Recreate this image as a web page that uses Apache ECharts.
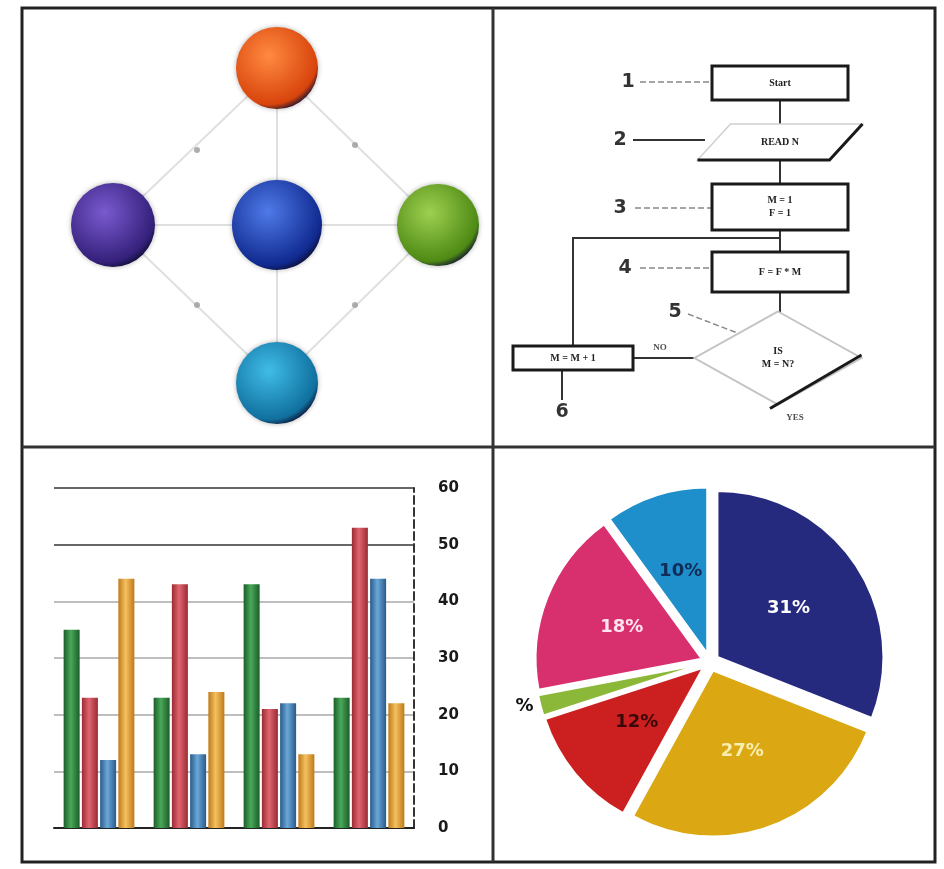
<!DOCTYPE html>
<html>
<head>
<meta charset="utf-8">
<script src="https://cdn.jsdelivr.net/npm/echarts@6/dist/echarts.min.js"></script>
<style>
  html, body { margin: 0; padding: 0; background: #fff; }
  #chart { width: 944px; height: 869px; }
</style>
</head>
<body>
<div id="chart"></div>
<script>
// --- network diagram (panel-local coords) ---
const netNodes = [
  { name: 'center', x: 255, y: 217, size: 90, light: '#4f7ae8', dark: '#102a90' },
  { name: 'top', x: 255, y: 60, size: 82, light: '#ff8a40', dark: '#d8440c' },
  { name: 'left', x: 91, y: 217, size: 84, light: '#7a5ad0', dark: '#34207a' },
  { name: 'right', x: 416, y: 217, size: 82, light: '#9ed050', dark: '#4e8a14' },
  { name: 'bottom', x: 255, y: 375, size: 82, light: '#40bce8', dark: '#10709e' }
]
const netDots = [[175, 142], [333, 137], [175, 297], [333, 297]]
const netLinks = [
  ['center', 'top'], ['center', 'left'], ['center', 'right'], ['center', 'bottom'],
  ['top', 'left'], ['top', 'right'], ['bottom', 'left'], ['bottom', 'right']
]

// --- flowchart (panel-local coords) ---
const flowBoxes = [
  { text: 'Start', x: 287, y: 75, w: 136, h: 34, shape: 'rect' },
  { text: 'READ N', x: 287, y: 134, w: 165, h: 36, shape: 'para' },
  { text: 'M = 1\nF = 1', x: 287, y: 199, w: 136, h: 46, shape: 'rect' },
  { text: 'F = F * M', x: 287, y: 264, w: 136, h: 40, shape: 'rect' },
  { text: 'IS\nM = N?', x: 285, y: 350, w: 167, h: 93, shape: 'diamond' },
  { text: 'M = M + 1', x: 80, y: 350, w: 120, h: 24, shape: 'rect' }
]
const flowNumbers = [
  ['1', 135, 74], ['2', 127, 132], ['3', 127, 200], ['4', 132, 260], ['5', 182, 304], ['6', 69, 404]
]
const flowWords = [['NO', 167, 340], ['YES', 302, 410]]
const flowArrows = [
  [[287, 92], [287, 116]],
  [[287, 152], [287, 176]],
  [[287, 222], [287, 244]],
  [[287, 284], [287, 304]],
  [[202, 350], [141, 350]],
  [[80, 338], [80, 230], [286, 230]]
]
const flowPlain = [[[69, 362], [69, 392]], [[140, 132], [212, 132]]]
const flowLeaders = [
  [[147, 74], [219, 74]], [[142, 200], [219, 200]], [[147, 260], [219, 260]], [[195, 306], [247, 326]]
]

// --- bar chart ---
const barCategories = ['A', 'B', 'C', 'D']
const greenValues = [35, 23, 43, 23]
const redValues = [23, 43, 21, 53]
const blueValues = [12, 13, 22, 44]
const orangeValues = [44, 24, 13, 22]

// --- pie chart ---
const pieNames = ['navy', 'gold', 'red', 'green', 'pink', 'blue']
const pieValues = [31, 27, 12, 2, 18, 10]
const pieLabels = ['31%', '27%', '12%', '%', '18%', '10%']
const pieColors = ['#262a7e', '#dba813', '#cc2020', '#8cb83a', '#d8306e', '#1f8fcb']
const pieLabelColors = ['#ffffff', '#f8eeb0', '#3a0808', '#111111', '#fde4ee', '#102c58']

const chart = echarts.init(document.getElementById('chart'))

const sphere = (light, dark) => ({
  type: 'radial', x: 0.4, y: 0.35, r: 0.7,
  colorStops: [{ offset: 0, color: light }, { offset: 0.85, color: dark }, { offset: 1, color: '#0c0c30' }]
})
const cylinder = (light, dark) => ({
  type: 'linear', x: 0, y: 0, x2: 1, y2: 0,
  colorStops: [{ offset: 0, color: dark }, { offset: 0.45, color: light }, { offset: 1, color: dark }]
})

const shapeCodes = { rect: 0, para: 1, diamond: 2 }
const boxFont = 'bold 10px "Liberation Serif"'

// draws the flowchart boxes from their centre and size
function renderFlowBox(params, api) {
  const c = api.coord([api.value(0), api.value(1)])
  const s = api.size([api.value(2), api.value(3)])
  const w = Math.abs(s[0]), h = Math.abs(s[1])
  const x0 = c[0] - w / 2, x1 = c[0] + w / 2, y0 = c[1] - h / 2, y1 = c[1] + h / 2
  const kind = api.value(4)
  const children = []
  if (kind === 0) {
    children.push({
      type: 'rect', shape: { x: x0, y: y0, width: w, height: h },
      style: { fill: '#fff', stroke: '#1a1a1a', lineWidth: 3 }
    })
  } else if (kind === 1) {
    const off = w * 0.2
    children.push({
      type: 'polygon', shape: { points: [[x0, y1], [x1 - off, y1], [x1, y0], [x0 + off, y0]] },
      style: { fill: '#fff', stroke: '#d0d0d0', lineWidth: 1.5 }
    })
    children.push({
      type: 'polyline', shape: { points: [[x0, y1], [x1 - off, y1], [x1, y0]] },
      style: { fill: null, stroke: '#1a1a1a', lineWidth: 3 }
    })
  } else {
    children.push({
      type: 'polygon', shape: { points: [[c[0], y0], [x1, c[1]], [c[0], y1], [x0, c[1]]] },
      style: { fill: '#fff', stroke: '#c4c4c4', lineWidth: 2 }
    })
    children.push({
      type: 'line', shape: { x1: x1, y1: c[1] - 3, x2: c[0] - 8, y2: y1 + 4 },
      style: { stroke: '#1a1a1a', lineWidth: 3 }
    })
  }
  children.push({
    type: 'text',
    style: {
      text: flowBoxes[params.dataIndex].text, x: c[0], y: c[1], align: 'center', verticalAlign: 'middle',
      font: boxFont, fill: '#222', lineHeight: 13
    }
  })
  return { type: 'group', children }
}

const hiddenAxis = (min, max, idx, inverse) => ({
  type: 'value', min, max, show: false, gridIndex: idx, inverse: !!inverse
})

const option = {
  animation: false,
  backgroundColor: '#fff',
  grid: [
    { left: 22, top: 8, width: 471, height: 439 },
    { left: 493, top: 8, width: 442, height: 439 },
    { left: 54, top: 488, width: 360, height: 340 }
  ],
  xAxis: [
    hiddenAxis(0, 471, 0),
    hiddenAxis(0, 442, 1),
    {
      type: 'category', data: barCategories, gridIndex: 2,
      axisLabel: { show: false }, axisTick: { show: false },
      axisLine: { lineStyle: { color: '#222', width: 2 } },
      splitLine: { show: false }
    }
  ],
  yAxis: [
    hiddenAxis(0, 439, 0, true),
    hiddenAxis(0, 439, 1, true),
    {
      type: 'value', gridIndex: 2, position: 'right', min: 0, max: 60, interval: 10,
      axisLine: { show: true, lineStyle: { color: '#333', type: 'dashed', width: 2 } },
      axisTick: { show: false },
      axisLabel: { margin: 24, color: '#1a1a1a', fontSize: 15, fontWeight: 'bold', fontFamily: 'DejaVu Sans' },
      splitLine: {
        show: true,
        lineStyle: { color: ['#999', '#a8a8a8', '#a8a8a8', '#a8a8a8', '#a8a8a8', '#333', '#333'], width: 1.5 }
      }
    }
  ],
  series: [
    {
      type: 'graph', coordinateSystem: 'cartesian2d', xAxisIndex: 0, yAxisIndex: 0,
      symbol: 'circle', z: 2,
      data: netNodes.map(n => ({
        name: n.name, value: [n.x, n.y], symbolSize: n.size,
        itemStyle: { color: sphere(n.light, n.dark), shadowBlur: 5, shadowColor: 'rgba(0,0,0,0.3)' }
      })),
      links: netLinks.map(l => ({ source: l[0], target: l[1] })),
      lineStyle: { color: '#e0e0e0', width: 2, opacity: 1 },
      label: { show: false }
    },
    {
      type: 'scatter', xAxisIndex: 0, yAxisIndex: 0, data: netDots, symbolSize: 6,
      itemStyle: { color: '#9a9a9a' }, z: 3
    },
    {
      type: 'lines', coordinateSystem: 'cartesian2d', xAxisIndex: 1, yAxisIndex: 1, polyline: true,
      data: flowArrows.map(c => ({ coords: c })),
      symbol: ['none', 'arrow'], symbolSize: 7,
      lineStyle: { color: '#333', width: 2, opacity: 1 }, z: 3
    },
    {
      type: 'lines', coordinateSystem: 'cartesian2d', xAxisIndex: 1, yAxisIndex: 1, polyline: true,
      data: flowPlain.map(c => ({ coords: c })),
      lineStyle: { color: '#333', width: 2, opacity: 1 }, z: 3
    },
    {
      type: 'lines', coordinateSystem: 'cartesian2d', xAxisIndex: 1, yAxisIndex: 1, polyline: true,
      data: flowLeaders.map(c => ({ coords: c })),
      lineStyle: { color: '#888', width: 1.5, type: 'dashed', opacity: 1 }, z: 3
    },
    {
      type: 'custom', xAxisIndex: 1, yAxisIndex: 1, z: 4,
      renderItem: renderFlowBox,
      data: flowBoxes.map(b => [b.x, b.y, b.w, b.h, shapeCodes[b.shape]])
    },
    {
      type: 'scatter', xAxisIndex: 1, yAxisIndex: 1, z: 4, symbolSize: 0,
      data: flowNumbers.map(n => ({ value: [n[1], n[2]], label: { formatter: n[0] } })),
      label: { show: true, position: 'inside', color: '#000', fontSize: 19, fontWeight: 'bold', fontFamily: 'DejaVu Sans' }
    },
    {
      type: 'scatter', xAxisIndex: 1, yAxisIndex: 1, z: 4, symbolSize: 0,
      data: flowWords.map(n => ({ value: [n[1], n[2]], label: { formatter: n[0] } })),
      label: { show: true, position: 'inside', color: '#222', fontSize: 9, fontWeight: 'bold', fontFamily: 'Liberation Serif' }
    },
    {
      type: 'bar', xAxisIndex: 2, yAxisIndex: 2, data: greenValues, barWidth: 16, barGap: '14%',
      itemStyle: { color: cylinder('#4aa85a', '#1a5e28') }
    },
    {
      type: 'bar', xAxisIndex: 2, yAxisIndex: 2, data: redValues, barWidth: 16, barGap: '14%',
      itemStyle: { color: cylinder('#e06670', '#9a2a34') }
    },
    {
      type: 'bar', xAxisIndex: 2, yAxisIndex: 2, data: blueValues, barWidth: 16, barGap: '14%',
      itemStyle: { color: cylinder('#6aa8d8', '#2a5a8a') }
    },
    {
      type: 'bar', xAxisIndex: 2, yAxisIndex: 2, data: orangeValues, barWidth: 16, barGap: '14%',
      itemStyle: { color: cylinder('#f4c060', '#c07a18') }
    },
    {
      type: 'pie', center: [710, 662], radius: 166, startAngle: 90, clockwise: true,
      selectedMode: 'multiple', selectedOffset: 9,
      itemStyle: { borderColor: '#fff', borderWidth: 2 },
      data: pieNames.map((n, i) => ({
        name: n, value: pieValues[i], selected: true,
        itemStyle: { color: pieColors[i] },
        label: i === 3
          ? { position: 'outside', distance: 2, formatter: pieLabels[i], color: pieLabelColors[i] }
          : { position: 'inside', formatter: pieLabels[i], color: pieLabelColors[i] },
        labelLine: i === 3 ? { show: false, length: 2, length2: 0 } : { show: false }
      })),
      label: { show: true, fontSize: 18, fontWeight: 'bold', fontFamily: 'DejaVu Sans' }
    }
  ],
  graphic: [
    { type: 'rect', shape: { x: 22, y: 8, width: 913, height: 854 }, style: { fill: null, stroke: '#222', lineWidth: 3 }, z: 10 },
    { type: 'line', shape: { x1: 493, y1: 8, x2: 493, y2: 862 }, style: { stroke: '#333', lineWidth: 3 }, z: 10 },
    { type: 'line', shape: { x1: 22, y1: 447, x2: 935, y2: 447 }, style: { stroke: '#333', lineWidth: 3 }, z: 10 }
  ]
}

chart.setOption(option)
</script>
</body>
</html>
